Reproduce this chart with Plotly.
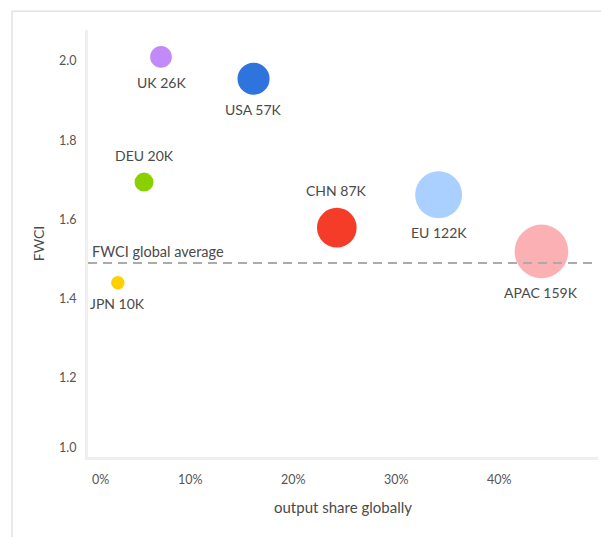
import plotly.graph_objects as go

# Research output by region: share of global output vs. field-weighted citation impact
regions = ["UK", "USA", "DEU", "JPN", "CHN", "EU", "APAC"]
output_k = [26, 57, 20, 10, 87, 122, 159]             # publications, thousands
share_pct = [7.1, 16.1, 5.45, 2.9, 24.2, 34.1, 44.1]  # share of global output, %
fwci = [2.01, 1.955, 1.694, 1.44, 1.579, 1.662, 1.519]
colors = ["#c28af8", "#2f74dc", "#8ad000", "#ffd000", "#f53c28", "#aad0ff", "#fbb1b3"]
label_above = [False, False, True, False, True, False, False]

global_avg = 1.49
x_ticks = [0, 10, 20, 30, 40]
x_tick_text = ["0%", "10%", "20%", "30%", "40%"]
y_ticks = [1.0, 1.2, 1.4, 1.6, 1.8, 2.0]
y_tick_text = ["1.0", "1.2", "1.4", "1.6", "1.8", "2.0"]

FONT = "Lato, 'Open Sans', sans-serif"
TEXT = "#4a4a4a"
SIZE_K = 4.25  # bubble diameter in px per sqrt(thousand publications)

fig = go.Figure()
fig.add_trace(go.Scatter(
    x=share_pct, y=fwci,
    mode="markers",
    marker=dict(size=output_k, sizemode="area", sizeref=2 / SIZE_K ** 2,
                color=colors, opacity=1, line=dict(width=0)),
    cliponaxis=False,
    hoverinfo="skip",
))

# bubble labels, offset by the bubble radius
for r, k, x, y, above in zip(regions, output_k, share_pct, fwci, label_above):
    radius = SIZE_K * k ** 0.5 / 2
    fig.add_annotation(xref="x", yref="y", x=x, y=y, showarrow=False,
                       text=f"{r} {k}K",
                       yanchor="bottom" if above else "top",
                       yshift=(radius + 7) if above else -(radius + 4),
                       font=dict(family=FONT, size=14, color=TEXT))

# global average reference line
fig.add_shape(type="line", xref="paper", yref="y", x0=0, x1=1,
              y0=global_avg, y1=global_avg,
              line=dict(color="#ababab", width=2, dash="9px,6px"), layer="above")
fig.add_annotation(xref="paper", yref="y", x=0, y=global_avg, xanchor="left",
                   yanchor="bottom", xshift=2, yshift=1, showarrow=False,
                   text="FWCI global average",
                   font=dict(family=FONT, size=14.5, color=TEXT))

# outer panel frame
fig.add_shape(type="rect", xref="paper", yref="paper",
              x0=-0.149, x1=1.05, y0=-0.25, y1=1.044,
              line=dict(color="#e2e2e2", width=1.5), layer="below")

# tick labels, kept inside the axis extent at the corner
for v, t in zip(x_ticks, x_tick_text):
    fig.add_annotation(xref="x", yref="paper", x=v, y=0, yanchor="top", yshift=-13,
                       xanchor="left" if v == x_ticks[0] else "center",
                       xshift=2 if v == x_ticks[0] else 0,
                       showarrow=False, text=t,
                       font=dict(family=FONT, size=12.5, color="#555555"))
for v, t in zip(y_ticks, y_tick_text):
    fig.add_annotation(xref="paper", yref="y", x=0, y=v, xanchor="right", xshift=-10,
                       yanchor="bottom" if v == y_ticks[0] else "middle",
                       showarrow=False, text=t,
                       font=dict(family=FONT, size=12.5, color="#555555"))

fig.update_xaxes(range=[0, 49.6], showline=True, linecolor="#efefef", linewidth=3,
                 showgrid=False, zeroline=False, showticklabels=False, ticks="",
                 title=dict(text="output share globally", standoff=44,
                            font=dict(family=FONT, size=15, color=TEXT)))
fig.update_yaxes(range=[1.0, 2.078], showline=True, linecolor="#efefef", linewidth=3,
                 showgrid=False, zeroline=False, showticklabels=False, ticks="",
                 title=dict(text="FWCI", standoff=38,
                            font=dict(family=FONT, size=14, color=TEXT)))

fig.update_layout(
    width=601, height=537,
    margin=dict(l=88, r=3, t=30, b=80),
    paper_bgcolor="white", plot_bgcolor="white",
    showlegend=False,
    font=dict(family=FONT, color=TEXT),
)

fig.write_html("out.html")
